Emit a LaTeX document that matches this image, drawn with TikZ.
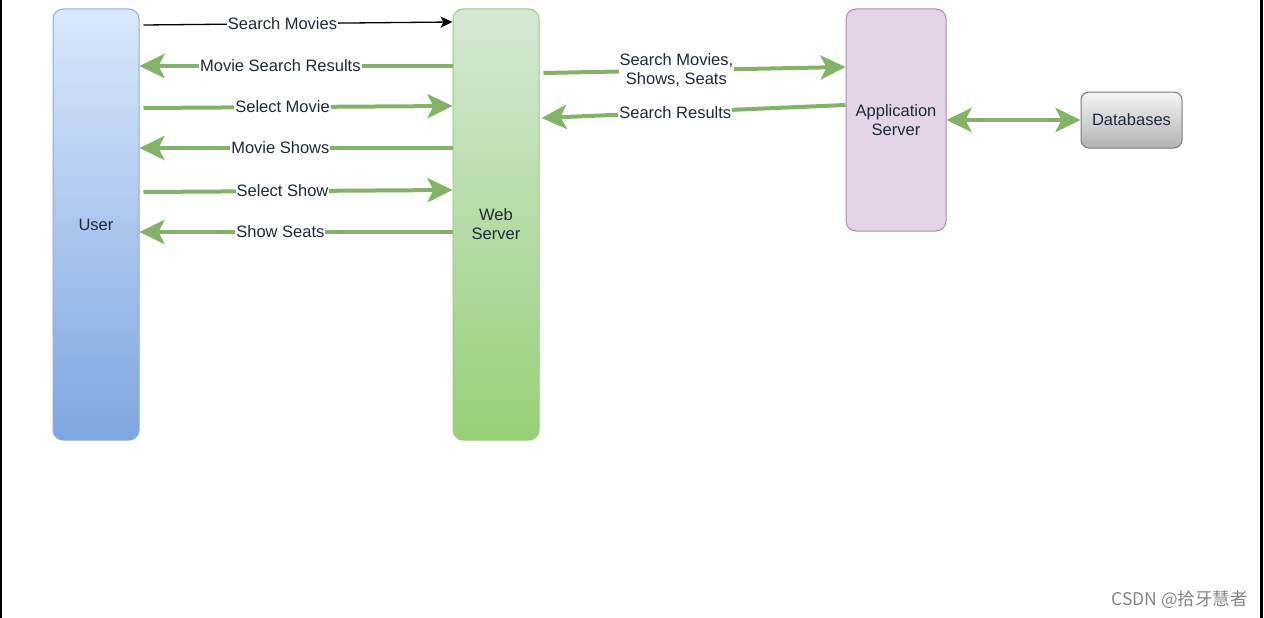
\documentclass[tikz,border=0pt]{standalone}
\usepackage{fontspec}
\setmainfont{Liberation Sans}
\newfontfamily\cjkfont{Noto Sans CJK SC}
\usetikzlibrary{arrows.meta}

\definecolor{txt}{HTML}{1F2A3A}
\definecolor{flowgreen}{HTML}{82B366}
\definecolor{userTop}{HTML}{DAE8FC}
\definecolor{userBot}{HTML}{7EA6E0}
\definecolor{userLine}{HTML}{8EAADB}
\definecolor{webTop}{HTML}{D5E8D4}
\definecolor{webBot}{HTML}{97D077}
\definecolor{webLine}{HTML}{9CCB84}
\definecolor{appFill}{HTML}{E1D5E7}
\definecolor{appLine}{HTML}{A88BBA}
\definecolor{dbTop}{HTML}{F5F5F5}
\definecolor{dbBot}{HTML}{B3B3B3}
\definecolor{dbLine}{HTML}{7A7A7A}

\begin{document}
\begin{tikzpicture}[x=1pt, y=-1pt,
    box/.style={draw, line width=1pt, rounded corners=10pt, align=center,
        font=\fontsize{16.5}{19}\selectfont, text=txt},
    lbl/.style={fill=white, inner sep=1pt, align=center,
        font=\fontsize{16.5}{19}\selectfont, text=txt},
    flow/.style={draw=flowgreen, line width=4pt,
        -{Stealth[length=25pt, width=24pt, inset=6pt]}},
    both/.style={flow, {Stealth[length=25pt, width=24pt, inset=6pt]}-{Stealth[length=25pt, width=24pt, inset=6pt]}},
    thinflow/.style={draw=black, line width=1.3pt,
        -{Stealth[length=12pt, width=11pt, inset=3pt]}}]

    \useasboundingbox (0,0) rectangle (1264,618);
    \fill[black] (0,0) rectangle (1.5,618);
    \fill[black] (1260,0) rectangle (1263,618);

    \node[box, draw=userLine, top color=userTop, bottom color=userBot,
        minimum width=86pt, minimum height=431pt] (user) at (96,224.5) {User};
    \node[box, draw=webLine, top color=webTop, bottom color=webBot,
        minimum width=86pt, minimum height=431pt] (web) at (496,224.5) {Web\\Server};
    \node[box, draw=appLine, fill=appFill,
        minimum width=100pt, minimum height=222pt] (app) at (896,120) {Application\\Server};
    \node[box, draw=dbLine, top color=dbTop, bottom color=dbBot, rounded corners=8pt,
        minimum width=101pt, minimum height=56pt] (db) at (1131.5,120) {Databases};

    % user <-> web
    \draw[thinflow] ([xshift=4pt]user.east |- 0,25) -- node[lbl, pos=0.45] {Search Movies} (web.west |- 0,22);
    \foreach \ya/\yb/\txt in {108/106/Select Movie, 192/190/Select Show}{
        \draw[flow] ([xshift=4pt]user.east |- 0,\ya) -- node[lbl, pos=0.45] {\txt} (web.west |- 0,\yb);
    }
    \foreach \y/\txt in {66/Movie Search Results, 148/Movie Shows, 232/Show Seats}{
        \draw[flow] (web.west |- 0,\y) -- node[lbl, pos=0.55] {\txt} (user.east |- 0,\y);
    }

    % web <-> app <-> db
    \draw[flow] ([xshift=4pt]web.east |- 0,73) -- node[lbl, pos=0.44] {Search Movies,\\Shows, Seats} (app.west |- 0,67);
    \draw[flow] (app.west |- 0,105) -- node[lbl, pos=0.56] {Search Results} ([xshift=2pt]web.east |- 0,118);
    \draw[both] (app.east) -- (db.west);

    \node[anchor=east, inner sep=0pt, text=black!48, font=\cjkfont\fontsize{17.5}{19}\selectfont] (watermark) at (1248,600) {CSDN @拾牙慧者};
\end{tikzpicture}
\end{document}
